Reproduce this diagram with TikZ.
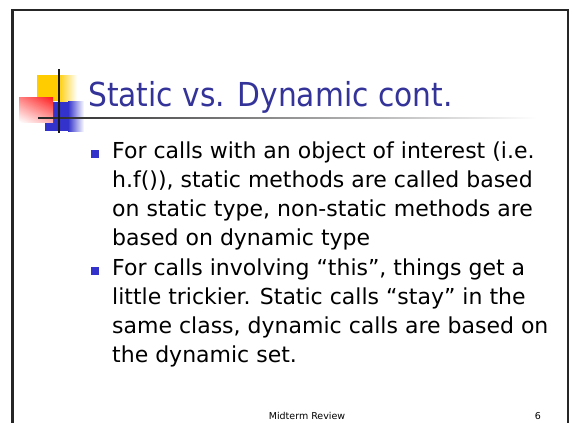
\documentclass[tikz,border=0pt]{standalone}
\usepackage{fontspec}
\setmainfont{DejaVu Sans}
\newfontfamily\titlefont[FakeStretch=0.9]{DejaVu Sans}
\usetikzlibrary{shadings}
\definecolor{titleblue}{HTML}{333399}
\definecolor{markblue}{HTML}{3333CC}
\definecolor{tplyellow}{HTML}{FFCC00}
\definecolor{tplred}{HTML}{FF1A1A}
\definecolor{tplblue}{HTML}{3333CC}
\tikzset{
  slidetitle/.style={anchor=base west,inner sep=0pt,text=titleblue,font=\titlefont\fontsize{33}{38}\selectfont},
  bodytext/.style={anchor=base west,inner sep=0pt,align=left,font=\fontsize{22}{28.7}\selectfont},
  markbox/.style={fill=markblue,minimum size=8pt,inner sep=0pt},
  foottext/.style={anchor=base,inner sep=0pt,font=\fontsize{9.5}{11}\selectfont},
  frameline/.style={draw=black!85,line cap=rect}
}
\begin{document}
\begin{tikzpicture}[x=1pt,y=-1pt]
  \useasboundingbox (0,0) rectangle (573,423);
  \fill[white] (0,0) rectangle (573,423);
  \draw[frameline,line width=2.5pt] (12.5,10) -- (12.5,425);
  \draw[frameline,line width=2pt] (12,10) -- (568,10);
  \draw[frameline,line width=1.2pt] (568,10) -- (568,425);
  \fill[tplyellow] (37,75) rectangle (58,101);
  \shade[left color=tplyellow,right color=white] (58,75) rectangle (77,101);
  \fill[tplblue] (45,101.5) rectangle (68,131);
  \shade[left color=tplblue,right color=white] (68,101.5) rectangle (84,131);
  \shade[upper right=tplred,upper left=tplred!55,lower left=white,lower right=tplred!35] (19,97) rectangle (53,122);
  \shade[left color=black!85,right color=white] (38,117) rectangle (537,118.5);
  \draw[black!90,line width=1.5pt] (59,69) -- (59,133);
  \node[slidetitle] (title) at (88,106) {Static vs. Dynamic cont.};
  \node[markbox] (mark1) at (95,154) {};
  \node[bodytext] (item1) at (112,245) {For calls with an object of interest (i.e.\\
    h.f()), static methods are called based\\
    on static type, non-static methods are\\
    based on dynamic type};
  \node[markbox] (mark2) at (95,271) {};
  \node[bodytext] (item2) at (112,362) {For calls involving “this”, things get a\\
    little trickier. Static calls “stay” in the\\
    same class, dynamic calls are based on\\
    the dynamic set.};
  \node[foottext] (footer) at (307,419) {Midterm Review};
  \node[foottext] (pagenum) at (538,419) {6};
\end{tikzpicture}
\end{document}
